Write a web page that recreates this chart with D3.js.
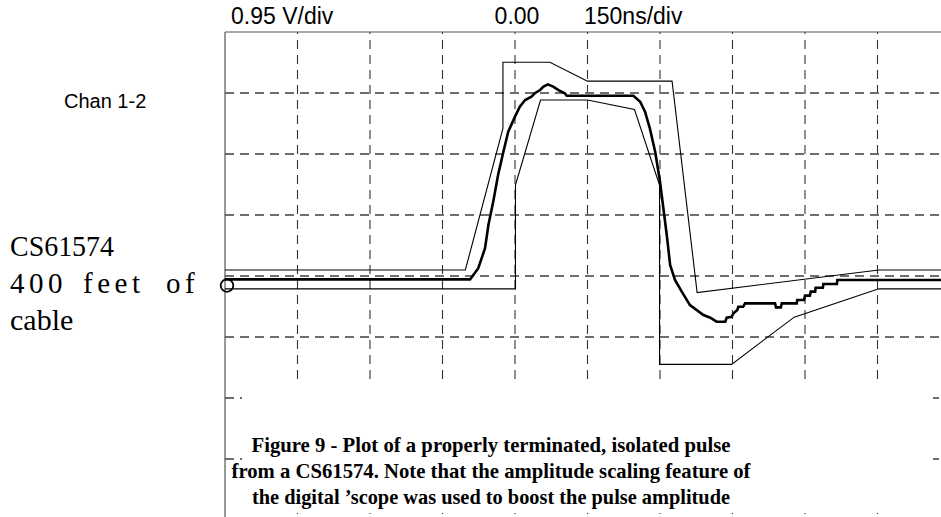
<!DOCTYPE html>
<html>
<head>
<meta charset="utf-8">
<script src="https://cdn.jsdelivr.net/npm/d3@7"></script>
<style>
  html, body { margin: 0; padding: 0; background: #fff; }
  svg { display: block; }
</style>
</head>
<body>
<svg id="chart" width="941" height="517"></svg>
<script>
// ---- Data ----
const scopeLabels = ["0.95 V/div", "0.00", "150ns/div"];
const channelLabel = "Chan 1-2";
const sideLabels = ["CS61574", "400 feet of", "cable"];
const captionLines = [
  "Figure 9 - Plot of a properly terminated, isolated pulse",
  "from a CS61574. Note that the amplitude scaling feature of",
  "the digital \u2019scope was used to boost the pulse amplitude"
];

// Pulse template (time in unit intervals, amplitude normalised)
const unitIntervalNs = 648;
const upperMaskUI  = [-1.16, -0.39, -0.27, -0.27, -0.12, 0, 0.27, 0.35, 0.93, 1.16];
const upperMaskAmp = [0.05, 0.05, 0.8, 1.15, 1.15, 1.05, 1.05, -0.07, 0.05, 0.05];
const lowerMaskUI  = [-1.16, -0.23, -0.23, -0.15, 0, 0.15, 0.23, 0.23, 0.46, 0.66, 0.93, 1.16];
const lowerMaskAmp = [-0.05, -0.05, 0.5, 0.95, 0.95, 0.9, 0.5, -0.45, -0.45, -0.2, -0.05, -0.05];

// Measured pulse (time ns, normalised amplitude)
const pulseTimeNs = [-750,-243,-226,-212,-205,-195,-185,-174,-164,-150,-140,-129,-116,-109,-98,-91,-82,-71,-60,-47,-43,
  95,109,119,129,140,150,157,164,171,181,195,212,240,254,267,285,288,298,302,310,312,322,326,388,390,400,402,433,434,448,450,460,462,471,472,487,488,516,517,750];
const pulseAmp = [0,0,0.059,0.165,0.288,0.412,0.553,0.676,0.782,0.862,0.915,0.950,0.968,0.986,1.003,1.021,1.033,1.021,1.003,0.986,0.973,
  0.973,0.941,0.888,0.800,0.676,0.518,0.377,0.235,0.076,-0.003,-0.065,-0.136,-0.189,-0.203,-0.224,-0.224,-0.203,-0.198,-0.180,-0.162,-0.145,-0.145,-0.127,-0.127,-0.148,-0.148,-0.127,-0.127,-0.109,-0.109,-0.086,-0.086,-0.065,-0.065,-0.044,-0.044,-0.024,-0.024,-0.003,-0.003];

// Graticule
const hDivisions = 10, vDivisions = 8;

// ---- Layout ----
const svg = d3.select("#chart");
const W = 941, H = 517;
const plotLeft = 225, plotTop = 32, divW = 72.5, divH = 61;
const plotRight = plotLeft + hDivisions * divW;
const plotBottom = plotTop + vDivisions * divH;

svg.append("rect").attr("width", W).attr("height", H).attr("fill", "#fff");

const xDiv = d3.scaleLinear().domain([0, hDivisions]).range([plotLeft, plotRight]);
const yDiv = d3.scaleLinear().domain([0, vDivisions]).range([plotTop, plotBottom]);
const x = d3.scaleLinear().domain([-750, 750]).range([plotLeft, plotRight]);
const y = d3.scaleLinear().domain([0, 1]).range([279.4, 90.6]);

svg.append("clipPath").attr("id", "plotclip")
  .append("rect").attr("x", plotLeft).attr("y", plotTop)
  .attr("width", plotRight - plotLeft).attr("height", plotBottom - plotTop);

const grid = svg.append("g").attr("clip-path", "url(#plotclip)");
grid.selectAll("line.v").data(d3.range(1, hDivisions)).join("line")
  .attr("x1", d => xDiv(d)).attr("x2", d => xDiv(d))
  .attr("y1", plotTop).attr("y2", plotBottom)
  .attr("stroke", "#333").attr("stroke-width", 1.1)
  .attr("stroke-dasharray", "9,6").attr("stroke-dashoffset", -8);
grid.selectAll("line.h").data(d3.range(1, vDivisions)).join("line")
  .attr("x1", plotLeft).attr("x2", plotRight)
  .attr("y1", d => yDiv(d)).attr("y2", d => yDiv(d))
  .attr("stroke", "#6e6e6e").attr("stroke-width", 2)
  .attr("stroke-dasharray", "9,6");

// frame
svg.append("line").attr("x1", plotLeft).attr("x2", W).attr("y1", plotTop).attr("y2", plotTop)
  .attr("stroke", "#555").attr("stroke-width", 1.2);
svg.append("line").attr("x1", plotLeft).attr("x2", plotLeft).attr("y1", plotTop).attr("y2", H)
  .attr("stroke", "#555").attr("stroke-width", 1.2);

const traces = svg.append("g").attr("clip-path", "url(#plotclip)");
const line = d3.line().x(d => x(d[0])).y(d => y(d[1]));

const upper = upperMaskUI.map((t, i) => [t * unitIntervalNs, upperMaskAmp[i]]);
const lower = lowerMaskUI.map((t, i) => [t * unitIntervalNs, lowerMaskAmp[i]]);
const pulse = pulseTimeNs.map((t, i) => [t, pulseAmp[i]]);

traces.append("path").attr("d", line(upper)).attr("fill", "none").attr("stroke", "#000").attr("stroke-width", 1.1);
traces.append("path").attr("d", line(lower)).attr("fill", "none").attr("stroke", "#000").attr("stroke-width", 1.1);
traces.append("path").attr("d", line(pulse)).attr("fill", "none").attr("stroke", "#000").attr("stroke-width", 2.6)
  .attr("stroke-linejoin", "miter");

// ground marker
svg.append("circle").attr("cx", 227).attr("cy", 285.5).attr("r", 6.3)
  .attr("fill", "none").attr("stroke", "#000").attr("stroke-width", 1.8);

// caption box covering lower graticule
svg.append("rect").attr("x", 242).attr("y", 381).attr("width", 933 - 242).attr("height", 513 - 381)
  .attr("fill", "#fff");

// top labels
const topX = [231, 517, 584];
const topAnchor = ["start", "middle", "start"];
svg.selectAll("text.top").data(scopeLabels).join("text")
  .attr("x", (d, i) => topX[i]).attr("y", 24)
  .attr("text-anchor", (d, i) => topAnchor[i])
  .attr("font-family", "Liberation Sans, Arial, sans-serif").attr("font-size", 23)
  .attr("fill", "#000").text(d => d);

svg.append("text").attr("x", 64).attr("y", 108)
  .attr("font-family", "Liberation Sans, Arial, sans-serif").attr("font-size", 20)
  .attr("fill", "#000").text(channelLabel);

// side labels (serif)
const serif = "Liberation Serif, Times New Roman, serif";
svg.append("text").attr("x", 10).attr("y", 256)
  .attr("font-family", serif).attr("font-size", 30)
  .attr("textLength", 104).attr("lengthAdjust", "spacingAndGlyphs")
  .attr("fill", "#000").text(sideLabels[0]);
const wordX = [10, 83, 166];
svg.selectAll("text.word").data(sideLabels[1].split(" ")).join("text")
  .attr("x", (d, i) => wordX[i]).attr("y", 293)
  .attr("font-family", serif).attr("font-size", 29).attr("letter-spacing", 4.5)
  .attr("fill", "#000").text(d => d);
svg.append("text").attr("x", 10).attr("y", 330)
  .attr("font-family", serif).attr("font-size", 30).attr("fill", "#000").text(sideLabels[2]);

// caption
const capY = [452, 478, 504];
const capLen = [479, 519, 478];
svg.selectAll("text.cap").data(captionLines).join("text")
  .attr("x", 491).attr("y", (d, i) => capY[i]).attr("text-anchor", "middle")
  .attr("font-family", serif).attr("font-size", 22)
  .attr("textLength", (d, i) => capLen[i]).attr("lengthAdjust", "spacingAndGlyphs")
  .attr("font-weight", "bold").attr("fill", "#000").text(d => d);
</script>
</body>
</html>
